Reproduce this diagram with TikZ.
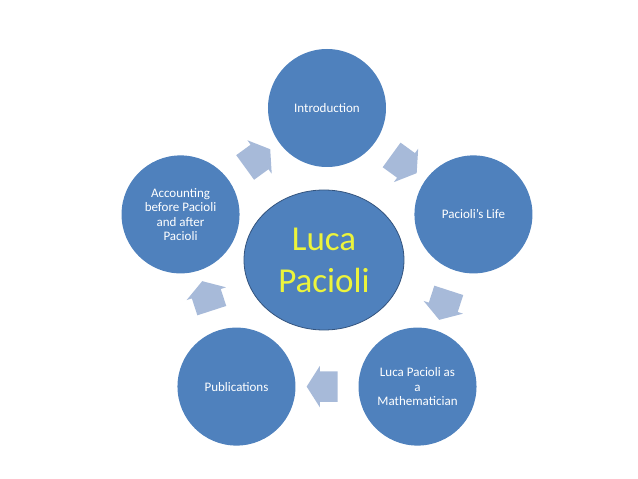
\documentclass[tikz,border=0pt]{standalone}
\usepackage{fontspec}
\setmainfont{Carlito}
\usepackage{xcolor}
\usepackage{tikz}
\usetikzlibrary{shapes.geometric,shapes.arrows,positioning,calc}
\definecolor{topicblue}{RGB}{79, 129, 189}
\definecolor{hubedge}{RGB}{52, 84, 126}
\definecolor{arrowgrey}{RGB}{167, 186, 217}
\definecolor{hubyellow}{RGB}{236, 244, 60}

\tikzset{
  topic/.style={circle, fill=topicblue, minimum size=118pt, inner sep=0pt, align=center, text=white, font=\fontsize{13}{14.5}\selectfont},
  hub/.style={ellipse, fill=topicblue, draw=hubedge, line width=0.8pt, minimum width=160pt, minimum height=140pt, align=center, text=hubyellow, font=\fontsize{35}{42}\selectfont},
  flowarrow/.style={single arrow, fill=arrowgrey, minimum height=31pt, inner xsep=0pt, inner ysep=15pt, single arrow head extend=5.5pt, single arrow tip angle=115}
}

\begin{document}
\begin{tikzpicture}[x=1pt, y=1pt]
        \useasboundingbox (-327,-217) rectangle (311,262);

        % Centre: the man himself
        \node[hub] (hub) at (-3,2) {Luca\\Pacioli};

        % Topics round the centre
        \node[topic] (intro) at (90:154) {Introduction};
        \node[topic] (life) at (18:154) {Pacioli’s Life};
        \node[topic] (math) at (-54:154) {Luca Pacioli as\\a\\Mathematician};
        \node[topic] (pubs) at (-126:154) {Publications};
        \node[topic] (acct) at (162:154) {Accounting\\before Pacioli\\and after\\Pacioli};

        % Block arrows, clockwise
        \node[flowarrow, rotate=-36] (introlife) at ($(intro)!0.5!(life)$) {};
        \node[flowarrow, rotate=-108] (lifemath) at ($(life)!0.5!(math)$) {};
        \node[flowarrow, rotate=180] (mathpubs) at ($(math)!0.5!(pubs)$) {};
        \node[flowarrow, rotate=108] (pubsacct) at ($(pubs)!0.5!(acct)$) {};
        \node[flowarrow, rotate=36] (acctintro) at ($(acct)!0.5!(intro)$) {};
    \end{tikzpicture}
\end{document}
